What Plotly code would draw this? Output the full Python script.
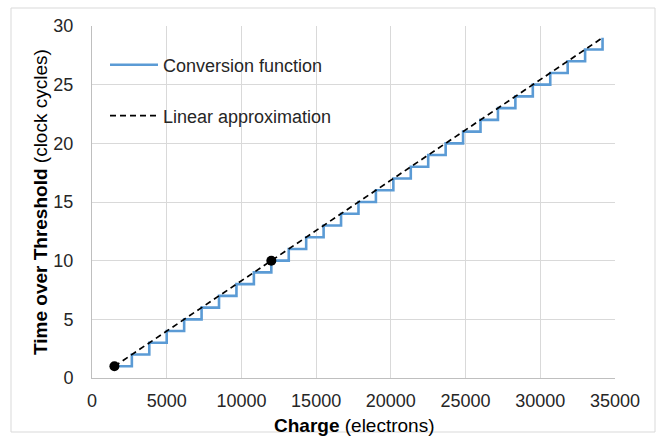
import plotly.graph_objects as go

# ToT levels (clock cycles) and the charge (electrons) at which each level starts
tot_levels = [1, 2, 3, 4, 5, 6, 7, 8, 9, 10, 11, 12, 13, 14, 15, 16, 17, 18, 19, 20,
              21, 22, 23, 24, 25, 26, 27, 28, 29]
charge_thresholds = [1500, 2667, 3833, 5000, 6167, 7333, 8500, 9667, 10833, 12000,
                     13167, 14333, 15500, 16667, 17833, 19000, 20167, 21333, 22500, 23667,
                     24833, 26000, 27167, 28333, 29500, 30667, 31833, 33000, 34167]

# Linear approximation end points
linear_charge = [1500, 34167]
linear_tot = [1, 29]

# Calibration points
calib_charge = [1500, 12000]
calib_tot = [1, 10]

x_ticks = [0, 5000, 10000, 15000, 20000, 25000, 30000, 35000]
y_ticks = [0, 5, 10, 15, 20, 25, 30]

FONT = "Liberation Sans, Arial, sans-serif"
W, H = 656, 437
L, R, T, B = 92, 615, 26, 378

fig = go.Figure()
fig.add_trace(go.Scatter(
    x=charge_thresholds, y=tot_levels, mode="lines", line_shape="hv",
    line=dict(color="#5b9bd5", width=2.6), name="Conversion function",
    legend="legend"))
fig.add_trace(go.Scatter(
    x=linear_charge, y=linear_tot, mode="lines",
    line=dict(color="#000000", width=1.7, dash="6px,4px"),
    name="Linear approximation", legend="legend2"))
fig.add_trace(go.Scatter(
    x=calib_charge, y=calib_tot, mode="markers",
    marker=dict(color="#000000", size=10), showlegend=False))

def px_x(p):
    return (p - L) / (R - L)

def px_y(p):
    return (B - p) / (B - T)

legend_common = dict(
    bgcolor="rgba(0,0,0,0)", borderwidth=0,
    font=dict(family=FONT, size=18, color="#262626"),
    xanchor="left", yanchor="middle", itemwidth=48)

fig.update_layout(
    width=W, height=H,
    margin=dict(l=L, r=W - R, t=T, b=H - B, autoexpand=False),
    paper_bgcolor="white", plot_bgcolor="white",
    font=dict(family=FONT, color="#262626"),
    legend=dict(x=px_x(105), y=px_y(65), **legend_common),
    legend2=dict(x=px_x(105), y=px_y(116), **legend_common),
    xaxis=dict(
        range=[0, 35000], tickvals=x_ticks, ticktext=[str(v) for v in x_ticks],
        showgrid=True, gridcolor="#d9d9d9", gridwidth=1,
        showline=True, linecolor="#bfbfbf", linewidth=1, zeroline=False,
        tickfont=dict(family=FONT, size=18, color="#262626"),
        ticks="", ticklabelstandoff=6, automargin=False,
    ),
    yaxis=dict(
        range=[0, 30], tickvals=y_ticks,
        showgrid=True, gridcolor="#d9d9d9", gridwidth=1,
        showline=True, linecolor="#bfbfbf", linewidth=1, zeroline=False,
        tickfont=dict(family=FONT, size=18, color="#262626"),
        ticks="", ticklabelstandoff=14, automargin=False,
    ),
    annotations=[
        dict(text="<b>Charge</b> (electrons)", xref="paper", yref="paper",
             x=px_x(354), y=px_y(425), xanchor="center", yanchor="middle",
             showarrow=False, font=dict(family=FONT, size=19, color="#000000")),
        dict(text="<b>Time over Threshold</b> (clock cycles)", xref="paper", yref="paper",
             x=px_x(40), y=px_y(202), xanchor="center", yanchor="middle", textangle=-90,
             showarrow=False, font=dict(family=FONT, size=19, color="#000000")),
    ],
    shapes=[dict(type="rect", xref="paper", yref="paper",
                 x0=px_x(11), x1=px_x(655), y0=px_y(432), y1=px_y(8),
                 line=dict(color="#d9d9d9", width=1), fillcolor="rgba(0,0,0,0)",
                 layer="below")],
)

fig.write_html("out.html", config={"displayModeBar": False},
               post_script="document.body.style.margin='0';document.body.style.padding='0';")
